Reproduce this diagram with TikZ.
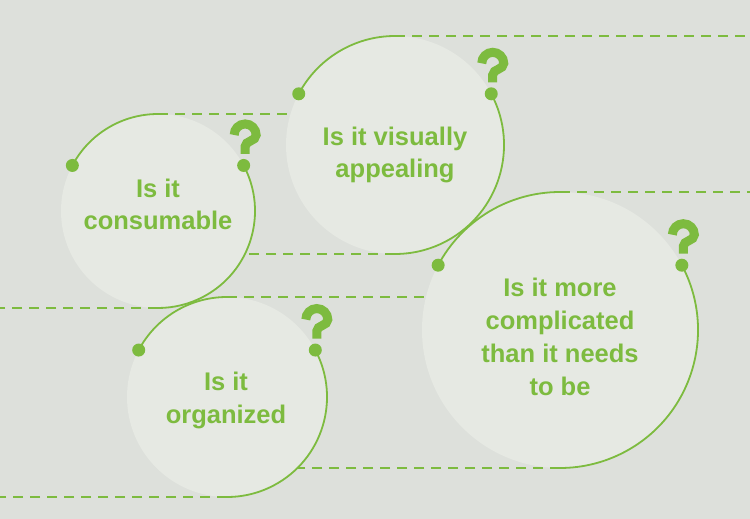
\documentclass[tikz,border=0pt]{standalone}
\usepackage{fontspec}
\setmainfont{Liberation Sans}
\definecolor{bg}{HTML}{DDE0DB}
\definecolor{bubblefill}{HTML}{E6E9E3}
\definecolor{leaf}{HTML}{7DBB3F}
\begin{document}
\begin{tikzpicture}[x=1pt,y=1pt,
  bubble/.style={circle,fill=bubblefill,inner sep=0pt,outer sep=0pt},
  arcline/.style={draw=leaf,line width=1.8pt},
  dashline/.style={draw=leaf,line width=1.6pt,dash pattern=on 10pt off 7pt},
  enddot/.style={fill=leaf},
  label/.style={text=leaf,font=\fontsize{25.5}{30}\selectfont\bfseries,anchor=base,inner sep=0pt},
  qmark/.pic={\draw[leaf,line width=9pt,line cap=butt]
     (-9.5,30.5) arc[start angle=180,end angle=0,radius=11pt]
     .. controls (12.5,24) and (1.5,25) .. (1.5,19) -- (1.5,11.5);}
]
\useasboundingbox (0,0) rectangle (750,519);
\fill[bg] (0,0) rectangle (750,519);

% bubbles
\node[bubble,minimum size=194pt] (c1) at (158,308) {};
\node[bubble,minimum size=218pt] (c2) at (395,374) {};
\node[bubble,minimum size=200pt] (c4) at (227,122) {};
\node[bubble,minimum size=276pt] (c5) at (560,189) {};

% dashed line ends
\coordinate (e1) at (290.5,405);
\coordinate (e2t) at (750,483);
\coordinate (e2b) at (245,265);
\coordinate (e4t) at (426,222);
\coordinate (e4b) at (0,22);
\coordinate (e1b) at (0,211);
\coordinate (e5t) at (750,327);
\coordinate (e5b) at (297.5,51);

% dashed lines
\draw[dashline] (c1.90) -- (e1);
\draw[dashline] (c1.270) -- (e1b);
\draw[dashline] (c2.90) -- (e2t);
\draw[dashline] (c2.270) -- (e2b);
\draw[dashline] (c4.90) -- (e4t);
\draw[dashline] (c4.270) -- (e4b);
\draw[dashline] (c5.90) -- (e5t);
\draw[dashline] (c5.270) -- (e5b);

% arcs
\draw[arcline] (c1.152) arc[start angle=152,end angle=90,radius=97pt];
\draw[arcline] (c1.28) arc[start angle=28,end angle=-90,radius=97pt];
\draw[arcline] (c2.152) arc[start angle=152,end angle=90,radius=109pt];
\draw[arcline] (c2.28) arc[start angle=28,end angle=-90,radius=109pt];
\draw[arcline] (c4.152) arc[start angle=152,end angle=90,radius=100pt];
\draw[arcline] (c4.28) arc[start angle=28,end angle=-90,radius=100pt];
\draw[arcline] (c5.152) arc[start angle=152,end angle=90,radius=138pt];
\draw[arcline] (c5.28) arc[start angle=28,end angle=-90,radius=138pt];

% dots
\foreach \c in {c1,c2,c4,c5}{
  \fill[enddot] (\c.152) circle[radius=6.5pt];
  \fill[enddot] (\c.28) circle[radius=6.5pt];
  \pic at (\c.28) {qmark};
}

% texts
\node[label] (t1a) at (158,321) {Is it};
\node[label] (t1b) at (158,289) {consumable};
\node[label] (t2a) at (395,373) {Is it visually};
\node[label] (t2b) at (395,341) {appealing};
\node[label] (t4a) at (226,128) {Is it};
\node[label] (t4b) at (226,95) {organized};
\node[label] (t5a) at (560,222) {Is it more};
\node[label] (t5b) at (560,189) {complicated};
\node[label] (t5c) at (560,156) {than it needs};
\node[label] (t5d) at (560,123) {to be};
\end{tikzpicture}
\end{document}
